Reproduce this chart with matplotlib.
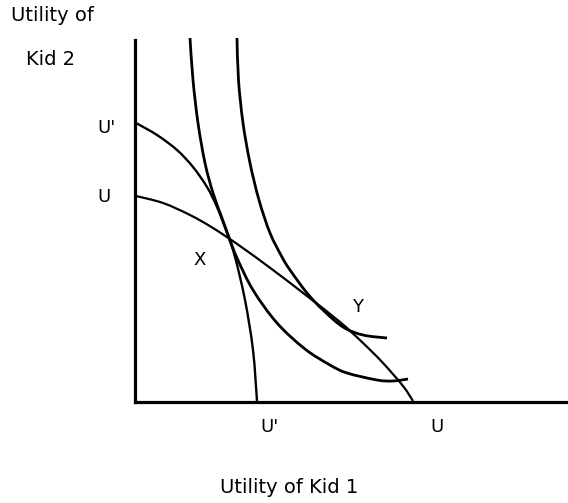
import matplotlib
matplotlib.use("Agg")
import matplotlib.pyplot as plt
from matplotlib.path import Path
from matplotlib.patches import PathPatch

# Curves (x = utility of kid 1, y = utility of kid 2)
u_frontier_x = [1, 28, 55, 78, 105, 138, 172, 205, 228, 248, 268, 278]
u_frontier_y = [206, 199, 187, 174, 156, 132, 106, 80, 59, 39, 16, 1]

up_frontier_x = [1, 22, 42, 58, 72, 82, 92, 100, 110, 118, 122]
up_frontier_y = [279, 267, 252, 235, 215, 195, 169, 145, 102, 52, 1]

ic_inner_x = [55, 58, 63, 70, 78, 87, 95, 102, 118, 142, 170, 195, 212, 242, 258, 273]
ic_inner_y = [364, 322, 279, 239, 209, 184, 162, 144, 112, 79, 53, 37, 29, 22, 21, 23]

ic_outer_x = [102, 103.5, 108, 115, 124, 135, 147, 155, 172, 188, 208, 228, 252]
ic_outer_y = [364, 322, 279, 239, 202, 169, 145, 132, 109, 92, 75, 67, 64]

x_tick_labels = ["U'", "U"]
y_tick_labels = ["U'", "U"]
point_labels = ["X", "Y"]

W, H = 568, 503
fig = plt.figure(figsize=(W / 100, H / 100), dpi=100)
ax = fig.add_axes([135 / W, 101 / H, 433 / W, 362 / H])
ax.set_xlim(0, 433)
ax.set_ylim(0, 362)
for s in ["top", "right"]:
    ax.spines[s].set_visible(False)
for s in ["left", "bottom"]:
    ax.spines[s].set_linewidth(2.3)
    ax.spines[s].set_color("black")
ax.set_xticks([])
ax.set_yticks([])
ax.patch.set_visible(False)


def smooth_path(xs, ys):
    # Draw a curve through the read points with the library's Bezier segments
    pts = list(zip(xs, ys))
    n = len(pts)
    verts = [pts[0]]
    codes = [Path.MOVETO]
    for i in range(n - 1):
        p0 = pts[i - 1] if i > 0 else pts[i]
        p1 = pts[i]
        p2 = pts[i + 1]
        p3 = pts[i + 2] if i + 2 < n else pts[i + 1]
        c1 = (p1[0] + (p2[0] - p0[0]) / 6, p1[1] + (p2[1] - p0[1]) / 6)
        c2 = (p2[0] - (p3[0] - p1[0]) / 6, p2[1] - (p3[1] - p1[1]) / 6)
        verts += [c1, c2, p2]
        codes += [Path.CURVE4] * 3
    return Path(verts, codes)


def draw(xs, ys, lw):
    patch = PathPatch(smooth_path(xs, ys), facecolor="none", edgecolor="black",
                      lw=lw, joinstyle="round", capstyle="butt", clip_on=False)
    ax.add_patch(patch)


draw(u_frontier_x, u_frontier_y, 1.6)
draw(up_frontier_x, up_frontier_y, 1.7)
draw(ic_inner_x, ic_inner_y, 2.0)
draw(ic_outer_x, ic_outer_y, 2.0)

big = dict(family="DejaVu Sans", fontsize=14, color="black", va="baseline", clip_on=False)
small = dict(family="DejaVu Sans", fontsize=13, color="black", va="baseline", clip_on=False)
ax.text(-83, 381, "Utility of", ha="center", **big)
ax.text(-84, 337, "Kid 2", ha="center", **big)
ax.text(-38, 269, y_tick_labels[0], ha="left", **small)
ax.text(-38, 200, y_tick_labels[1], ha="left", **small)
ax.text(125, -30, x_tick_labels[0], ha="left", **small)
ax.text(295, -30, x_tick_labels[1], ha="left", **small)
ax.text(58, 137, point_labels[0], ha="left", **small)
ax.text(217, 90, point_labels[1], ha="left", **small)
ax.text(154, -91, "Utility of Kid 1", ha="center", **big)

fig.savefig("out.png", dpi=100)
